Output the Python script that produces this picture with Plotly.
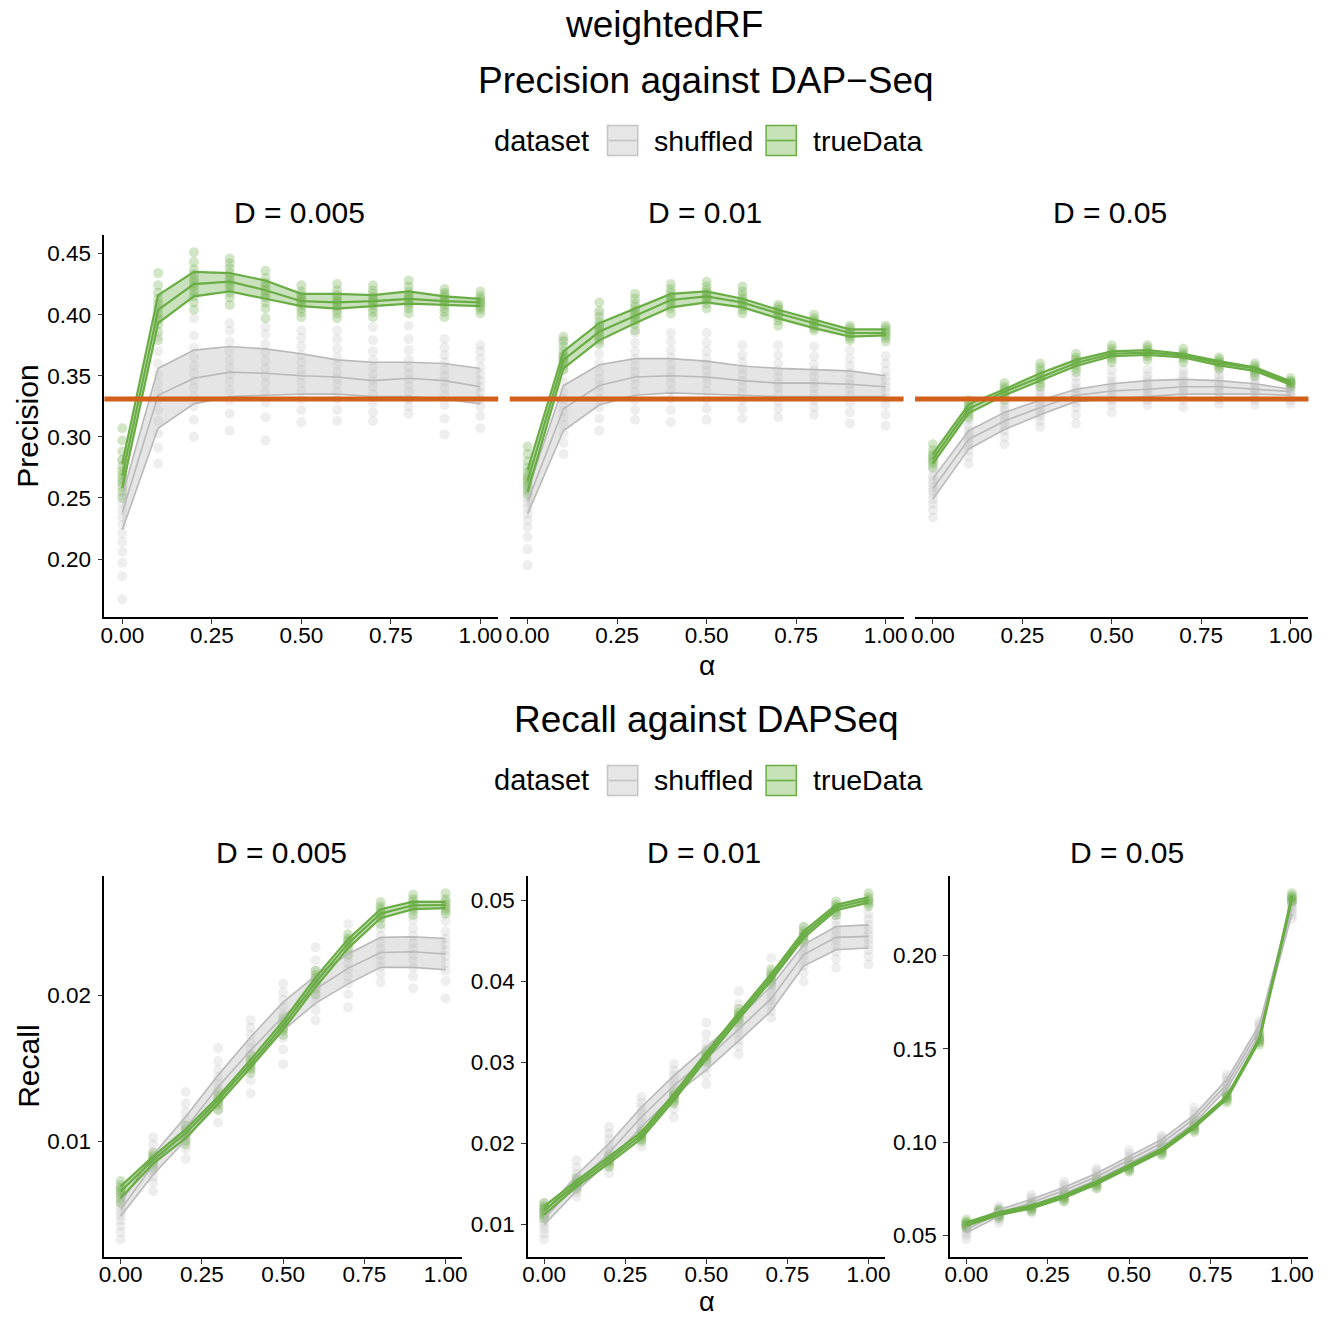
import plotly.graph_objects as go

# ---------------------------------------------------------------- data
ALPHA = [0.0, 0.1, 0.2, 0.3, 0.4, 0.5, 0.6, 0.7, 0.8, 0.9, 1.0]
ALPHA_TICKS = [0.0, 0.25, 0.5, 0.75, 1.0]
ALPHA_TICKTEXT = ["0.00", "0.25", "0.50", "0.75", "1.00"]
D_LABELS = ["D = 0.005", "D = 0.01", "D = 0.05"]
DATASETS = ["shuffled", "trueData"]
PRECISION_BASELINE = 0.331

# Precision, D = 0.005
PREC_D005_SHUF_MID = [0.238, 0.334, 0.348, 0.353, 0.352, 0.350, 0.349, 0.346, 0.348, 0.346, 0.341]
PREC_D005_SHUF_LO = [0.224, 0.307, 0.327, 0.333, 0.334, 0.335, 0.335, 0.333, 0.333, 0.331, 0.327]
PREC_D005_SHUF_HI = [0.252, 0.356, 0.371, 0.374, 0.372, 0.368, 0.363, 0.361, 0.361, 0.360, 0.356]
PREC_D005_TRUE_MID = [0.268, 0.404, 0.425, 0.427, 0.420, 0.411, 0.410, 0.411, 0.413, 0.411, 0.410]
PREC_D005_TRUE_LO = [0.258, 0.393, 0.415, 0.419, 0.413, 0.407, 0.405, 0.407, 0.409, 0.408, 0.407]
PREC_D005_TRUE_HI = [0.278, 0.416, 0.435, 0.434, 0.428, 0.417, 0.417, 0.416, 0.419, 0.415, 0.413]
PREC_D005_SHUF_PTS = [
    [0.167, 0.186, 0.197, 0.206, 0.214, 0.221, 0.228, 0.234, 0.240, 0.246, 0.252, 0.262, 0.281],
    [0.278, 0.291, 0.303, 0.313, 0.322, 0.330, 0.337, 0.344, 0.351, 0.360, 0.370, 0.382, 0.395],
    [0.300, 0.314, 0.325, 0.333, 0.340, 0.346, 0.352, 0.358, 0.365, 0.373, 0.383, 0.397],
    [0.305, 0.319, 0.330, 0.338, 0.345, 0.351, 0.357, 0.363, 0.370, 0.378, 0.387, 0.393],
    [0.297, 0.316, 0.328, 0.337, 0.344, 0.350, 0.356, 0.362, 0.369, 0.376, 0.384, 0.390],
    [0.312, 0.322, 0.331, 0.338, 0.344, 0.350, 0.355, 0.361, 0.367, 0.374, 0.381, 0.387],
    [0.313, 0.322, 0.331, 0.337, 0.343, 0.348, 0.353, 0.359, 0.365, 0.372, 0.380, 0.387],
    [0.313, 0.320, 0.328, 0.335, 0.341, 0.346, 0.351, 0.357, 0.363, 0.370, 0.379, 0.390],
    [0.319, 0.325, 0.331, 0.337, 0.342, 0.347, 0.352, 0.357, 0.363, 0.371, 0.380, 0.391],
    [0.302, 0.315, 0.326, 0.334, 0.340, 0.345, 0.350, 0.355, 0.361, 0.367, 0.373, 0.380],
    [0.307, 0.317, 0.325, 0.331, 0.336, 0.341, 0.346, 0.351, 0.357, 0.364, 0.370, 0.375],
]
PREC_D005_TRUE_PTS = [
    [0.250, 0.255, 0.259, 0.263, 0.266, 0.269, 0.272, 0.276, 0.281, 0.288, 0.297, 0.307],
    [0.379, 0.386, 0.392, 0.397, 0.401, 0.405, 0.409, 0.413, 0.418, 0.424, 0.434],
    [0.404, 0.410, 0.415, 0.419, 0.423, 0.426, 0.429, 0.433, 0.437, 0.443, 0.451],
    [0.408, 0.414, 0.418, 0.422, 0.425, 0.428, 0.431, 0.434, 0.438, 0.442, 0.446],
    [0.397, 0.405, 0.410, 0.414, 0.417, 0.420, 0.423, 0.426, 0.430, 0.436],
    [0.398, 0.402, 0.405, 0.408, 0.410, 0.412, 0.414, 0.416, 0.419, 0.424],
    [0.397, 0.401, 0.404, 0.407, 0.409, 0.411, 0.413, 0.416, 0.420, 0.425],
    [0.398, 0.402, 0.405, 0.408, 0.410, 0.412, 0.414, 0.417, 0.420, 0.424],
    [0.401, 0.405, 0.408, 0.410, 0.412, 0.414, 0.416, 0.419, 0.423, 0.428],
    [0.398, 0.402, 0.405, 0.408, 0.410, 0.412, 0.414, 0.416, 0.418, 0.421],
    [0.401, 0.404, 0.406, 0.408, 0.410, 0.411, 0.413, 0.415, 0.419],
]

# Precision, D = 0.01
PREC_D01_SHUF_MID = [0.247, 0.323, 0.342, 0.349, 0.350, 0.349, 0.346, 0.344, 0.344, 0.343, 0.341]
PREC_D01_SHUF_LO = [0.237, 0.305, 0.326, 0.334, 0.336, 0.335, 0.334, 0.333, 0.333, 0.333, 0.333]
PREC_D01_SHUF_HI = [0.256, 0.342, 0.359, 0.364, 0.364, 0.362, 0.358, 0.356, 0.355, 0.354, 0.350]
PREC_D01_TRUE_MID = [0.264, 0.363, 0.386, 0.399, 0.412, 0.415, 0.410, 0.401, 0.393, 0.385, 0.385]
PREC_D01_TRUE_LO = [0.255, 0.356, 0.379, 0.393, 0.406, 0.410, 0.406, 0.397, 0.389, 0.382, 0.383]
PREC_D01_TRUE_HI = [0.273, 0.370, 0.393, 0.405, 0.417, 0.419, 0.413, 0.404, 0.396, 0.388, 0.388]
PREC_D01_SHUF_PTS = [
    [0.195, 0.208, 0.218, 0.226, 0.232, 0.237, 0.242, 0.246, 0.250, 0.255, 0.260, 0.267],
    [0.286, 0.295, 0.303, 0.310, 0.316, 0.321, 0.326, 0.331, 0.337, 0.345, 0.355, 0.366, 0.379],
    [0.305, 0.315, 0.324, 0.331, 0.337, 0.342, 0.347, 0.353, 0.360, 0.368, 0.378, 0.390, 0.401],
    [0.314, 0.322, 0.330, 0.337, 0.343, 0.348, 0.353, 0.358, 0.364, 0.370, 0.377, 0.385],
    [0.312, 0.322, 0.331, 0.338, 0.344, 0.349, 0.354, 0.359, 0.365, 0.371, 0.378, 0.385],
    [0.314, 0.323, 0.331, 0.338, 0.344, 0.349, 0.354, 0.359, 0.364, 0.370, 0.377, 0.385],
    [0.315, 0.323, 0.330, 0.336, 0.341, 0.346, 0.351, 0.356, 0.361, 0.367, 0.375],
    [0.316, 0.323, 0.329, 0.335, 0.340, 0.344, 0.349, 0.354, 0.360, 0.367, 0.375],
    [0.318, 0.324, 0.330, 0.335, 0.340, 0.344, 0.349, 0.354, 0.359, 0.366, 0.374],
    [0.311, 0.320, 0.328, 0.334, 0.339, 0.343, 0.347, 0.352, 0.358, 0.364, 0.371],
    [0.309, 0.318, 0.326, 0.332, 0.337, 0.341, 0.345, 0.349, 0.354, 0.360, 0.366],
]
PREC_D01_TRUE_PTS = [
    [0.253, 0.257, 0.260, 0.263, 0.265, 0.268, 0.271, 0.275, 0.280, 0.286, 0.292],
    [0.355, 0.358, 0.361, 0.363, 0.365, 0.367, 0.370, 0.374, 0.378, 0.382],
    [0.376, 0.380, 0.383, 0.386, 0.388, 0.391, 0.394, 0.398, 0.403, 0.410],
    [0.387, 0.392, 0.395, 0.398, 0.400, 0.403, 0.406, 0.409, 0.413, 0.417],
    [0.401, 0.405, 0.408, 0.411, 0.413, 0.415, 0.418, 0.421, 0.425],
    [0.405, 0.409, 0.412, 0.414, 0.416, 0.418, 0.420, 0.423, 0.427],
    [0.401, 0.404, 0.407, 0.409, 0.411, 0.413, 0.416, 0.419, 0.423],
    [0.391, 0.395, 0.398, 0.400, 0.402, 0.404, 0.406, 0.408],
    [0.387, 0.389, 0.391, 0.393, 0.395, 0.397, 0.400],
    [0.379, 0.381, 0.383, 0.385, 0.387, 0.389, 0.391],
    [0.378, 0.381, 0.383, 0.385, 0.387, 0.389, 0.391],
]

# Precision, D = 0.05
PREC_D05_SHUF_MID = [0.2575, 0.298, 0.313, 0.324, 0.334, 0.3375, 0.339, 0.341, 0.341, 0.339, 0.337]
PREC_D05_SHUF_LO = [0.249, 0.290, 0.306, 0.318, 0.329, 0.331, 0.333, 0.335, 0.335, 0.335, 0.334]
PREC_D05_SHUF_HI = [0.266, 0.305, 0.320, 0.330, 0.339, 0.3435, 0.346, 0.347, 0.346, 0.3435, 0.339]
PREC_D05_TRUE_MID = [0.282, 0.323, 0.337, 0.349, 0.3605, 0.368, 0.369, 0.3667, 0.3605, 0.356, 0.344]
PREC_D05_TRUE_LO = [0.278, 0.3195, 0.334, 0.346, 0.358, 0.366, 0.367, 0.365, 0.3585, 0.354, 0.3427]
PREC_D05_TRUE_HI = [0.286, 0.3266, 0.339, 0.352, 0.363, 0.370, 0.371, 0.368, 0.362, 0.357, 0.3454]
PREC_D05_SHUF_PTS = [
    [0.234, 0.240, 0.245, 0.249, 0.253, 0.256, 0.259, 0.262, 0.265, 0.268, 0.273],
    [0.278, 0.284, 0.289, 0.293, 0.296, 0.299, 0.302, 0.305, 0.309, 0.314],
    [0.294, 0.300, 0.305, 0.309, 0.312, 0.315, 0.318, 0.321, 0.324, 0.327],
    [0.308, 0.313, 0.317, 0.320, 0.323, 0.326, 0.329, 0.332, 0.335, 0.338],
    [0.311, 0.318, 0.324, 0.328, 0.331, 0.334, 0.337, 0.340, 0.344, 0.349],
    [0.320, 0.326, 0.330, 0.333, 0.336, 0.339, 0.342, 0.345, 0.349, 0.355],
    [0.326, 0.330, 0.333, 0.336, 0.339, 0.341, 0.344, 0.347, 0.350, 0.355],
    [0.324, 0.330, 0.334, 0.337, 0.340, 0.342, 0.345, 0.348, 0.351, 0.355],
    [0.327, 0.331, 0.334, 0.337, 0.340, 0.342, 0.345, 0.348, 0.351, 0.355],
    [0.326, 0.330, 0.333, 0.336, 0.338, 0.340, 0.343, 0.346, 0.349, 0.352],
    [0.327, 0.330, 0.333, 0.335, 0.337, 0.339, 0.341, 0.344],
]
PREC_D05_TRUE_PTS = [
    [0.275, 0.278, 0.280, 0.282, 0.284, 0.286, 0.289, 0.294],
    [0.316, 0.319, 0.321, 0.323, 0.325, 0.327, 0.330],
    [0.330, 0.333, 0.335, 0.337, 0.339, 0.341, 0.344],
    [0.341, 0.344, 0.347, 0.349, 0.351, 0.354, 0.357, 0.360],
    [0.353, 0.356, 0.359, 0.361, 0.363, 0.365, 0.368],
    [0.361, 0.364, 0.366, 0.368, 0.370, 0.372, 0.375],
    [0.363, 0.366, 0.368, 0.369, 0.371, 0.373, 0.375],
    [0.361, 0.364, 0.366, 0.367, 0.369, 0.372],
    [0.356, 0.358, 0.360, 0.361, 0.363, 0.365],
    [0.350, 0.353, 0.355, 0.356, 0.358, 0.360],
    [0.341, 0.343, 0.344, 0.345, 0.346, 0.348],
]

# Recall, D = 0.005
REC_D005_SHUF_MID = [0.00534, 0.00841, 0.01091, 0.01375, 0.01625, 0.01857, 0.02045, 0.02186, 0.02295, 0.02300, 0.02284]
REC_D005_SHUF_LO = [0.00489, 0.00773, 0.01011, 0.01284, 0.01534, 0.01761, 0.01948, 0.02080, 0.02193, 0.02193, 0.02177]
REC_D005_SHUF_HI = [0.00580, 0.00909, 0.01170, 0.01455, 0.01716, 0.01955, 0.02136, 0.02284, 0.02398, 0.02402, 0.02391]
REC_D005_TRUE_MID = [0.00659, 0.00875, 0.01057, 0.01284, 0.01534, 0.01795, 0.02091, 0.02357, 0.02561, 0.02618, 0.02620]
REC_D005_TRUE_LO = [0.00614, 0.00848, 0.01023, 0.01257, 0.01507, 0.01766, 0.02057, 0.02325, 0.02530, 0.02591, 0.02598]
REC_D005_TRUE_HI = [0.00693, 0.00898, 0.01084, 0.01307, 0.01561, 0.01825, 0.02125, 0.02386, 0.02591, 0.02643, 0.02641]
REC_D005_SHUF_PTS = [
    [0.0033, 0.0038, 0.0042, 0.0046, 0.0049, 0.0052, 0.0055, 0.0058, 0.0061, 0.0064, 0.0067],
    [0.0066, 0.0072, 0.0076, 0.0080, 0.0083, 0.0086, 0.0089, 0.0093, 0.0098, 0.0103],
    [0.0088, 0.0095, 0.0100, 0.0104, 0.0108, 0.0111, 0.0115, 0.0120, 0.0126, 0.0134],
    [0.0113, 0.0121, 0.0127, 0.0132, 0.0136, 0.0140, 0.0144, 0.0149, 0.0155, 0.0164],
    [0.0133, 0.0142, 0.0149, 0.0155, 0.0160, 0.0164, 0.0168, 0.0173, 0.0178, 0.0183],
    [0.0153, 0.0163, 0.0171, 0.0177, 0.0182, 0.0187, 0.0192, 0.0197, 0.0202, 0.0208],
    [0.0183, 0.0190, 0.0196, 0.0200, 0.0204, 0.0208, 0.0212, 0.0217, 0.0224, 0.0233],
    [0.0192, 0.0201, 0.0208, 0.0213, 0.0218, 0.0222, 0.0226, 0.0231, 0.0238, 0.0249],
    [0.0209, 0.0215, 0.0220, 0.0224, 0.0228, 0.0232, 0.0236, 0.0241, 0.0246, 0.0253],
    [0.0205, 0.0213, 0.0219, 0.0224, 0.0228, 0.0232, 0.0236, 0.0241, 0.0246, 0.0252],
    [0.0198, 0.0210, 0.0217, 0.0222, 0.0227, 0.0231, 0.0235, 0.0239, 0.0244, 0.0251],
]
REC_D005_TRUE_PTS = [
    [0.0058, 0.0061, 0.0064, 0.0066, 0.0068, 0.0070, 0.0073],
    [0.0082, 0.0085, 0.0087, 0.0088, 0.0090, 0.0092],
    [0.0098, 0.0101, 0.0104, 0.0106, 0.0108, 0.0111],
    [0.0122, 0.0125, 0.0127, 0.0129, 0.0131, 0.0134],
    [0.0147, 0.0150, 0.0152, 0.0154, 0.0156, 0.0159],
    [0.0173, 0.0176, 0.0178, 0.0180, 0.0182, 0.0185],
    [0.0201, 0.0205, 0.0208, 0.0210, 0.0212, 0.0214, 0.0217],
    [0.0228, 0.0232, 0.0235, 0.0237, 0.0239, 0.0242],
    [0.0249, 0.0253, 0.0255, 0.0257, 0.0259, 0.0261, 0.0264],
    [0.0255, 0.0258, 0.0260, 0.0262, 0.0264, 0.0266, 0.0269],
    [0.0256, 0.0258, 0.0260, 0.0262, 0.0264, 0.0266, 0.0270],
]

# Recall, D = 0.01
REC_D01_SHUF_MID = [0.01066, 0.0150, 0.01881, 0.02324, 0.02713, 0.03041, 0.0341, 0.03787, 0.04332, 0.04545, 0.04557]
REC_D01_SHUF_LO = [0.00992, 0.0141, 0.0177, 0.02201, 0.0259, 0.02906, 0.03266, 0.03635, 0.04189, 0.04393, 0.04414]
REC_D01_SHUF_HI = [0.01135, 0.01607, 0.01996, 0.02447, 0.02836, 0.03184, 0.03553, 0.03943, 0.04455, 0.0468, 0.0470]
REC_D01_TRUE_MID = [0.01168, 0.0150, 0.01791, 0.02098, 0.0257, 0.03082, 0.03574, 0.04053, 0.04578, 0.04914, 0.05008]
REC_D01_TRUE_LO = [0.01115, 0.01463, 0.0175, 0.02057, 0.02529, 0.03041, 0.03533, 0.04012, 0.04537, 0.04881, 0.04975]
REC_D01_TRUE_HI = [0.01217, 0.01537, 0.01832, 0.02139, 0.02611, 0.03123, 0.03615, 0.04094, 0.04619, 0.04947, 0.05041]
REC_D01_SHUF_PTS = [
    [0.0081, 0.0088, 0.0094, 0.0099, 0.0103, 0.0107, 0.0111, 0.0116, 0.0121, 0.0126],
    [0.0134, 0.0139, 0.0143, 0.0147, 0.0150, 0.0153, 0.0157, 0.0162, 0.0170, 0.0179],
    [0.0163, 0.0171, 0.0177, 0.0182, 0.0187, 0.0192, 0.0198, 0.0205, 0.0212, 0.0220],
    [0.0196, 0.0205, 0.0213, 0.0220, 0.0226, 0.0232, 0.0238, 0.0244, 0.0250, 0.0257],
    [0.0232, 0.0242, 0.0251, 0.0259, 0.0266, 0.0272, 0.0278, 0.0284, 0.0290, 0.0298],
    [0.0273, 0.0284, 0.0293, 0.0300, 0.0305, 0.0310, 0.0316, 0.0324, 0.0335, 0.0349],
    [0.0310, 0.0320, 0.0328, 0.0335, 0.0341, 0.0346, 0.0352, 0.0360, 0.0372, 0.0388],
    [0.0355, 0.0363, 0.0370, 0.0376, 0.0381, 0.0386, 0.0392, 0.0400, 0.0412, 0.0429],
    [0.0400, 0.0411, 0.0419, 0.0426, 0.0432, 0.0437, 0.0443, 0.0450, 0.0458, 0.0466],
    [0.0417, 0.0428, 0.0437, 0.0445, 0.0451, 0.0457, 0.0463, 0.0469, 0.0476, 0.0482],
    [0.0421, 0.0431, 0.0439, 0.0446, 0.0452, 0.0458, 0.0464, 0.0470, 0.0477, 0.0484],
]
REC_D01_TRUE_PTS = [
    [0.0107, 0.0111, 0.0114, 0.0117, 0.0119, 0.0122, 0.0126],
    [0.0144, 0.0147, 0.0149, 0.0151, 0.0153, 0.0157],
    [0.0171, 0.0175, 0.0178, 0.0180, 0.0182, 0.0185],
    [0.0202, 0.0205, 0.0208, 0.0210, 0.0212, 0.0216],
    [0.0249, 0.0253, 0.0256, 0.0258, 0.0260, 0.0263],
    [0.0300, 0.0304, 0.0307, 0.0309, 0.0311, 0.0314],
    [0.0349, 0.0353, 0.0356, 0.0358, 0.0361, 0.0366],
    [0.0396, 0.0400, 0.0404, 0.0406, 0.0409, 0.0415],
    [0.0448, 0.0452, 0.0456, 0.0459, 0.0462, 0.0468],
    [0.0482, 0.0486, 0.0490, 0.0492, 0.0495, 0.0499],
    [0.0493, 0.0496, 0.0499, 0.0501, 0.0504, 0.0509],
]

# Recall, D = 0.05
REC_D05_SHUF_MID = [0.0532, 0.0620, 0.0677, 0.0741, 0.0815, 0.0903, 0.0995, 0.1124, 0.1310, 0.1602, 0.2256]
REC_D05_SHUF_LO = [0.0514, 0.0603, 0.0660, 0.0724, 0.0797, 0.0884, 0.0975, 0.1102, 0.1285, 0.1575, 0.2222]
REC_D05_SHUF_HI = [0.0549, 0.0638, 0.0694, 0.0758, 0.0833, 0.0922, 0.1015, 0.1146, 0.1335, 0.1629, 0.2290]
REC_D05_TRUE_MID = [0.0562, 0.0617, 0.0653, 0.0709, 0.0783, 0.0868, 0.0956, 0.1084, 0.1239, 0.1549, 0.2310]
REC_D05_TRUE_LO = [0.0553, 0.0609, 0.0645, 0.0701, 0.0775, 0.0860, 0.0948, 0.1076, 0.1231, 0.1541, 0.2300]
REC_D05_TRUE_HI = [0.0571, 0.0625, 0.0661, 0.0717, 0.0791, 0.0876, 0.0964, 0.1092, 0.1247, 0.1557, 0.2320]
REC_D05_SHUF_PTS = [
    [0.0479, 0.0500, 0.0515, 0.0527, 0.0537, 0.0547, 0.0557, 0.0567],
    [0.0567, 0.0585, 0.0600, 0.0613, 0.0624, 0.0635, 0.0645, 0.0656],
    [0.0620, 0.0640, 0.0655, 0.0668, 0.0680, 0.0692, 0.0704, 0.0717],
    [0.0682, 0.0702, 0.0718, 0.0732, 0.0745, 0.0758, 0.0772, 0.0788],
    [0.0753, 0.0775, 0.0792, 0.0806, 0.0819, 0.0832, 0.0845, 0.0859],
    [0.0850, 0.0868, 0.0882, 0.0895, 0.0907, 0.0920, 0.0936, 0.0956],
    [0.0939, 0.0957, 0.0972, 0.0986, 0.0999, 0.1012, 0.1024, 0.1036],
    [0.1062, 0.1083, 0.1100, 0.1115, 0.1129, 0.1144, 0.1163, 0.1186],
    [0.1248, 0.1268, 0.1285, 0.1300, 0.1314, 0.1330, 0.1346, 0.1363],
    [0.1540, 0.1558, 0.1575, 0.1590, 0.1605, 0.1620, 0.1633, 0.1646],
    [0.2195, 0.2215, 0.2232, 0.2247, 0.2261, 0.2275, 0.2285, 0.2292],
]
REC_D05_TRUE_PTS = [
    [0.0541, 0.0550, 0.0558, 0.0565, 0.0572, 0.0585],
    [0.0594, 0.0605, 0.0613, 0.0620, 0.0628, 0.0638],
    [0.0629, 0.0640, 0.0649, 0.0656, 0.0664, 0.0673],
    [0.0682, 0.0694, 0.0704, 0.0712, 0.0722, 0.0735],
    [0.0753, 0.0766, 0.0777, 0.0787, 0.0796, 0.0806],
    [0.0841, 0.0852, 0.0862, 0.0871, 0.0881, 0.0894],
    [0.0930, 0.0942, 0.0951, 0.0959, 0.0968, 0.0983],
    [0.1054, 0.1068, 0.1078, 0.1087, 0.1098, 0.1115],
    [0.1213, 0.1225, 0.1234, 0.1242, 0.1252, 0.1266],
    [0.1522, 0.1535, 0.1544, 0.1552, 0.1562, 0.1575],
    [0.2287, 0.2297, 0.2305, 0.2312, 0.2320, 0.2333],
]

# Axis ticks
PREC_YTICKS = [0.20, 0.25, 0.30, 0.35, 0.40, 0.45]
REC_D005_YTICKS = [0.01, 0.02]
REC_D01_YTICKS = [0.01, 0.02, 0.03, 0.04, 0.05]
REC_D05_YTICKS = [0.05, 0.10, 0.15, 0.20]

# ---------------------------------------------------------------- style
W, H = 1333, 1318
FONT = "Liberation Sans, Arial, sans-serif"
GREEN = "#6aad45"
GREEN_FILL = "rgba(106,173,69,0.36)"
GREEN_PT = "rgba(106,173,69,0.30)"
GREY = "#b9b9b9"
GREY_FILL = "rgba(190,190,190,0.40)"
GREY_PT = "rgba(185,185,185,0.24)"
ORANGE = "#d2601a"
INK = "#000000"


def fx(p):
    return p / W


def fy(p):
    return 1 - p / H


# panel rectangles in pixels: (left, right) and (top, bottom)
TOP_PANELS = [(99.3, 496.7), (508.3, 905.7), (917.3, 1314.3)]
TOP_Y = (235.0, 616.7)
BOT_PANELS = [(99.3, 460.0), (526.7, 886.7), (952.7, 1314.0)]
BOT_Y = (876.0, 1256.7)

precision_groups = [
    (PREC_D005_SHUF_PTS, PREC_D005_SHUF_LO, PREC_D005_SHUF_MID, PREC_D005_SHUF_HI,
     PREC_D005_TRUE_PTS, PREC_D005_TRUE_LO, PREC_D005_TRUE_MID, PREC_D005_TRUE_HI),
    (PREC_D01_SHUF_PTS, PREC_D01_SHUF_LO, PREC_D01_SHUF_MID, PREC_D01_SHUF_HI,
     PREC_D01_TRUE_PTS, PREC_D01_TRUE_LO, PREC_D01_TRUE_MID, PREC_D01_TRUE_HI),
    (PREC_D05_SHUF_PTS, PREC_D05_SHUF_LO, PREC_D05_SHUF_MID, PREC_D05_SHUF_HI,
     PREC_D05_TRUE_PTS, PREC_D05_TRUE_LO, PREC_D05_TRUE_MID, PREC_D05_TRUE_HI),
]
recall_groups = [
    (REC_D005_SHUF_PTS, REC_D005_SHUF_LO, REC_D005_SHUF_MID, REC_D005_SHUF_HI,
     REC_D005_TRUE_PTS, REC_D005_TRUE_LO, REC_D005_TRUE_MID, REC_D005_TRUE_HI),
    (REC_D01_SHUF_PTS, REC_D01_SHUF_LO, REC_D01_SHUF_MID, REC_D01_SHUF_HI,
     REC_D01_TRUE_PTS, REC_D01_TRUE_LO, REC_D01_TRUE_MID, REC_D01_TRUE_HI),
    (REC_D05_SHUF_PTS, REC_D05_SHUF_LO, REC_D05_SHUF_MID, REC_D05_SHUF_HI,
     REC_D05_TRUE_PTS, REC_D05_TRUE_LO, REC_D05_TRUE_MID, REC_D05_TRUE_HI),
]
recall_ticks = [REC_D005_YTICKS, REC_D01_YTICKS, REC_D05_YTICKS]


def pad_range(values):
    lo, hi = min(values), max(values)
    span = hi - lo
    return [lo - 0.05 * span, hi + 0.05 * span]


def all_values(group):
    vals = []
    for col in group[0] + group[4]:
        vals += col
    for arr in group[1:4] + group[5:8]:
        vals += arr
    return vals


fig = go.Figure()


def add_group(group, xref, yref):
    s_pts, s_lo, s_mid, s_hi, t_pts, t_lo, t_mid, t_hi = group
    for pts, color in ((s_pts, GREY_PT), (t_pts, GREEN_PT)):
        xs, ys = [], []
        for a, col in zip(ALPHA, pts):
            xs += [a] * len(col)
            ys += col
        fig.add_trace(go.Scatter(
            x=xs, y=ys, mode="markers", xaxis=xref, yaxis=yref,
            marker=dict(size=10, color=color, line=dict(width=0)),
            showlegend=False, hoverinfo="skip"))
    for lo, mid, hi, line_c, fill_c, lw in (
            (s_lo, s_mid, s_hi, GREY, GREY_FILL, 1.6),
            (t_lo, t_mid, t_hi, GREEN, GREEN_FILL, 2.2)):
        fig.add_trace(go.Scatter(
            x=ALPHA, y=lo, mode="lines", xaxis=xref, yaxis=yref,
            line=dict(color=line_c, width=lw), showlegend=False, hoverinfo="skip"))
        fig.add_trace(go.Scatter(
            x=ALPHA, y=hi, mode="lines", xaxis=xref, yaxis=yref, fill="tonexty",
            fillcolor=fill_c, line=dict(color=line_c, width=lw),
            showlegend=False, hoverinfo="skip"))
        fig.add_trace(go.Scatter(
            x=ALPHA, y=mid, mode="lines", xaxis=xref, yaxis=yref,
            line=dict(color=line_c, width=lw), showlegend=False, hoverinfo="skip"))


axis_common = dict(
    showline=True, linecolor=INK, linewidth=1.6, ticks="outside", ticklen=5,
    tickwidth=1.3, tickcolor="#333333", showgrid=False, zeroline=False,
    tickfont=dict(family=FONT, size=22.5, color=INK), fixedrange=True,
)
x_common = dict(axis_common, range=[-0.05, 1.05], tickvals=ALPHA_TICKS,
                ticktext=ALPHA_TICKTEXT)
y_common = dict(axis_common, ticklabelstandoff=2)

layout = dict(
    width=W, height=H, margin=dict(l=0, r=0, t=0, b=0),
    paper_bgcolor="white", plot_bgcolor="white", showlegend=False,
    font=dict(family=FONT, color=INK),
)

prec_vals = []
for g in precision_groups:
    prec_vals += all_values(g)
prec_range = pad_range(prec_vals)

shapes = []
annotations = []


def text(t, x, y, size, xanchor="center", angle=0):
    annotations.append(dict(text=t, x=fx(x), y=fy(y), xref="paper", yref="paper",
                            showarrow=False, textangle=angle,
                            font=dict(family=FONT, size=size, color=INK),
                            xanchor=xanchor, yanchor="middle"))


for i in range(3):
    n = i + 1
    xname = "xaxis" if n == 1 else f"xaxis{n}"
    yname = "yaxis" if n == 1 else f"yaxis{n}"
    xref = "x" if n == 1 else f"x{n}"
    yref = "y" if n == 1 else f"y{n}"
    left, right = TOP_PANELS[i]
    layout[xname] = dict(x_common, domain=[fx(left), fx(right)], anchor=yref,
                         ticklabelstandoff=-8)
    ydict = dict(y_common, domain=[fy(TOP_Y[1]), fy(TOP_Y[0])], range=prec_range,
                 tickvals=PREC_YTICKS, ticktext=[f"{v:.2f}" for v in PREC_YTICKS],
                 anchor=xref)
    if i > 0:
        ydict.update(showline=False, ticks="", showticklabels=False)
    layout[yname] = ydict
    add_group(precision_groups[i], xref, yref)
    shapes.append(dict(type="line", xref=f"{xref} domain", yref=yref, x0=0, x1=1,
                       y0=PRECISION_BASELINE, y1=PRECISION_BASELINE,
                       line=dict(color=ORANGE, width=5), layer="above"))
    text(D_LABELS[i], (left + right) / 2 - 2, 213, 30)

for i in range(3):
    n = i + 4
    xname, yname = f"xaxis{n}", f"yaxis{n}"
    xref, yref = f"x{n}", f"y{n}"
    left, right = BOT_PANELS[i]
    ticks = recall_ticks[i]
    layout[xname] = dict(x_common, domain=[fx(left), fx(right)], anchor=yref,
                         ticklabelstandoff=-9)
    layout[yname] = dict(y_common, domain=[fy(BOT_Y[1]), fy(BOT_Y[0])],
                         range=pad_range(all_values(recall_groups[i])),
                         tickvals=ticks, ticktext=[f"{v:.2f}" for v in ticks],
                         anchor=xref)
    add_group(recall_groups[i], xref, yref)
    text(D_LABELS[i], (left + right) / 2 - 2, 853, 30)

# titles
text("weightedRF", 664, 25, 37)
text("Precision against DAP\u2212Seq", 706.7, 80, 37)
text("Recall against DAPSeq", 706.7, 720, 37)

# axis titles
text("Precision", 22, 426, 30, angle=-90)
text("Recall", 22, 1066, 30, angle=-90)
text("\u03b1", 707, 665, 28)
text("\u03b1", 707, 1302, 27)

# legends (one above each block)
for dy in (0, 640):
    cy = 140.5 + dy
    text("dataset", 490, cy, 29, xanchor="left")
    text(DATASETS[0], 652, cy, 28.5, xanchor="left")
    text(DATASETS[1], 812, cy, 28.5, xanchor="left")
    for (x0, x1), fill_c, line_c in (((607, 637.5), "#e6e6e6", "#c4c4c4"),
                                     ((767, 797.5), "#c6e2b6", GREEN)):
        shapes.append(dict(type="rect", xref="paper", yref="paper",
                           x0=fx(x0), x1=fx(x1), y0=fy(cy + 15), y1=fy(cy - 15),
                           fillcolor=fill_c, line=dict(color=line_c, width=1.5)))
        shapes.append(dict(type="line", xref="paper", yref="paper",
                           x0=fx(x0 + 1), x1=fx(x1 - 1), y0=fy(cy), y1=fy(cy),
                           line=dict(color=line_c, width=1.6)))

layout["shapes"] = shapes
layout["annotations"] = annotations
fig.update_layout(**layout)

fig.write_html("out.html", config={"displayModeBar": False})
